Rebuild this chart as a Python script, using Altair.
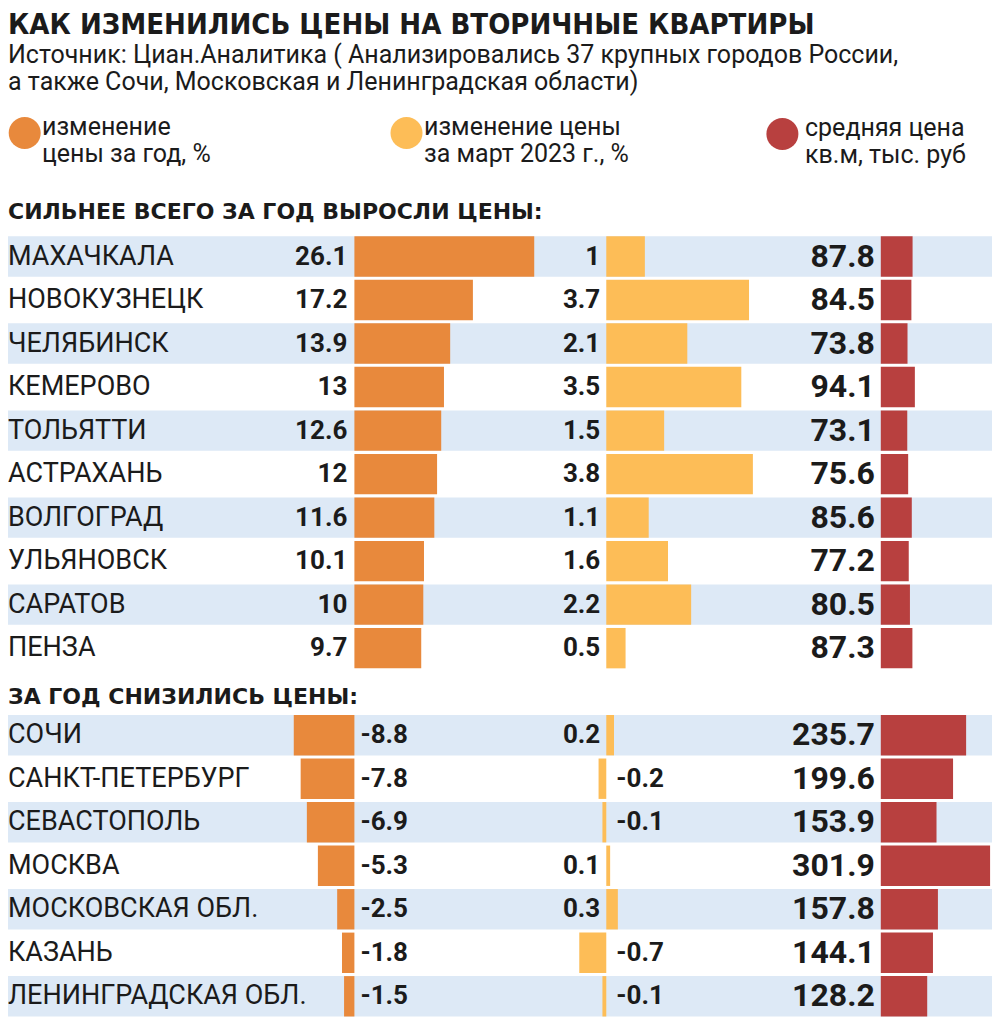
import altair as alt
import pandas as pd

# ---------------- data ----------------
cities_up = ["МАХАЧКАЛА", "НОВОКУЗНЕЦК", "ЧЕЛЯБИНСК", "КЕМЕРОВО", "ТОЛЬЯТТИ",
             "АСТРАХАНЬ", "ВОЛГОГРАД", "УЛЬЯНОВСК", "САРАТОВ", "ПЕНЗА"]
year_up = [26.1, 17.2, 13.9, 13, 12.6, 12, 11.6, 10.1, 10, 9.7]
march_up = [1, 3.7, 2.1, 3.5, 1.5, 3.8, 1.1, 1.6, 2.2, 0.5]
price_up = [87.8, 84.5, 73.8, 94.1, 73.1, 75.6, 85.6, 77.2, 80.5, 87.3]

cities_down = ["СОЧИ", "САНКТ-ПЕТЕРБУРГ", "СЕВАСТОПОЛЬ", "МОСКВА",
               "МОСКОВСКАЯ ОБЛ.", "КАЗАНЬ", "ЛЕНИНГРАДСКАЯ ОБЛ."]
year_down = [-8.8, -7.8, -6.9, -5.3, -2.5, -1.8, -1.5]
march_down = [0.2, -0.2, -0.1, 0.1, 0.3, -0.7, -0.1]
price_down = [235.7, 199.6, 153.9, 301.9, 157.8, 144.1, 128.2]

title_text = "КАК ИЗМЕНИЛИСЬ ЦЕНЫ НА ВТОРИЧНЫЕ КВАРТИРЫ"
subtitle_lines = [
    "Источник: Циан.Аналитика ( Анализировались 37 крупных городов России,",
    "а также Сочи, Московская и Ленинградская области)",
]
legend_labels = ["изменение\nцены за год, %",
                 "изменение цены\nза март 2023 г., %",
                 "средняя цена\nкв.м, тыс. руб"]
section_titles = ["СИЛЬНЕЕ ВСЕГО ЗА ГОД ВЫРОСЛИ ЦЕНЫ:", "ЗА ГОД СНИЗИЛИСЬ ЦЕНЫ:"]

# ---------------- styles ----------------
ORANGE, YELLOW, RED = "#E8893C", "#FDBD57", "#B8403F"
BAND = "#DDE9F6"
INK = "#1b1b1b"
COND = "DejaVu Sans Condensed, sans-serif"
SANS = "Roboto, sans-serif"
W, H = 984, 1011


def fmt(v):
    return f"{v:g}"


rows = []
for i, c in enumerate(cities_up):
    rows.append(dict(city=c, year=year_up[i], march=march_up[i], price=price_up[i],
                     slot=i, stripe=int(i % 2 == 0)))
for j, c in enumerate(cities_down):
    rows.append(dict(city=c, year=year_down[j], march=march_down[j], price=price_down[j],
                     slot=len(cities_up) + 1 + j, stripe=int(j % 2 == 0)))
df = pd.DataFrame(rows)
df["year_lbl"] = df["year"].map(fmt)
df["march_lbl"] = df["march"].map(fmt)
df["price_lbl"] = df["price"].map(fmt)

n_slots = len(cities_up) + 1 + len(cities_down) - 1
yscale = alt.Scale(domain=[0, n_slots], range=[248.5, 988.3], nice=False, zero=False)
sc1 = alt.Scale(domain=[-10, 30], range=[277.5, 553.1], nice=False, zero=False)
sc2 = alt.Scale(domain=[-1, 4], range=[559.7, 752.6], nice=False, zero=False)
sc3 = alt.Scale(domain=[0, 300], range=[872.8, 981.4], nice=False, zero=False)

base = alt.Chart(df).transform_calculate(
    y0="datum.slot - 0.464", y1="datum.slot + 0.464", zero="0"
)
Y = alt.Y("slot:Q", scale=yscale, axis=None)
Y0 = alt.Y("y0:Q", scale=yscale, axis=None)

bands = base.transform_filter("datum.stripe == 1").mark_rect(color=BAND).encode(
    x=alt.value(0), x2=alt.value(W), y=Y0, y2="y1:Q")


def bars(field, sc, color):
    return base.mark_rect(color=color).encode(
        x=alt.X(f"{field}:Q", scale=sc, axis=None), x2="zero:Q", y=Y0, y2="y1:Q")


def labels(field, sc, cond, align, dx, font, size):
    return base.transform_filter(cond).mark_text(
        align=align, baseline="middle", dx=dx, font=font, fontWeight="bold",
        fontSize=size, color=INK).encode(
        x=alt.X("zero:Q", scale=sc, axis=None), y=Y, text=f"{field}_lbl:N")


city_text = base.mark_text(align="left", baseline="middle", font=SANS, fontSize=27,
                           color=INK).encode(x=alt.value(0), y=Y, text="city:N")

layers = [
    bands,
    bars("year", sc1, ORANGE),
    bars("march", sc2, YELLOW),
    bars("price", sc3, RED),
    city_text,
    labels("year", sc1, "datum.year >= 0", "right", -7, SANS, 26),
    labels("year", sc1, "datum.year < 0", "left", 6, SANS, 26),
    labels("march", sc2, "datum.march >= 0", "right", -6, SANS, 26),
    labels("march", sc2, "datum.march < 0", "left", 10, SANS, 26),
    labels("price", sc3, "datum.price >= 0", "right", -6, SANS, 32),
]

# titles
title = alt.Chart(pd.DataFrame({"t": [title_text]})).mark_text(
    align="left", baseline="alphabetic", font=COND, fontWeight="bold", fontSize=29,
    color=INK).encode(x=alt.value(0), y=alt.value(26), text="t:N")
layers.append(title)
for k, (line, yv) in enumerate(zip(subtitle_lines, [55, 82])):
    layers.append(alt.Chart(pd.DataFrame({"t": [line]})).mark_text(
        align="left", baseline="alphabetic", font=SANS, fontSize=25, color=INK
    ).encode(x=alt.value(0), y=alt.value(yv), text="t:N"))

# legend
legend_colors = [ORANGE, YELLOW, RED]
legend_pos = [(16.7, 125, 34), (398.5, 125, 416), (774.4, 126, 797)]
for lab, col, (cx, cy, tx) in zip(legend_labels, legend_colors, legend_pos):
    ldf = pd.DataFrame({"t": [lab]})
    layers.append(alt.Chart(ldf).mark_point(filled=True, shape="circle", size=1024,
                                            opacity=1, color=col).encode(
        x=alt.value(cx), y=alt.value(cy)))
    layers.append(alt.Chart(ldf).mark_text(
        align="left", baseline="alphabetic", lineBreak="\n", lineHeight=27,
        font=SANS, fontSize=25, color=INK).encode(
        x=alt.value(tx), y=alt.value(cy + 2), text="t:N"))

# section headers
for txt, yv in zip(section_titles, [204, 689]):
    layers.append(alt.Chart(pd.DataFrame({"t": [txt]})).mark_text(
        align="left", baseline="middle", font="DejaVu Sans, sans-serif",
        fontWeight="bold", fontSize=22, color=INK).encode(
        x=alt.value(0), y=alt.value(yv), text="t:N"))

chart = alt.layer(*layers).resolve_scale(x="independent").properties(
    width=W, height=H, padding=0, autosize="none", background="white"
).configure_view(stroke=None)

chart.save("out.html", embed_options={"renderer": "svg", "actions": False})
